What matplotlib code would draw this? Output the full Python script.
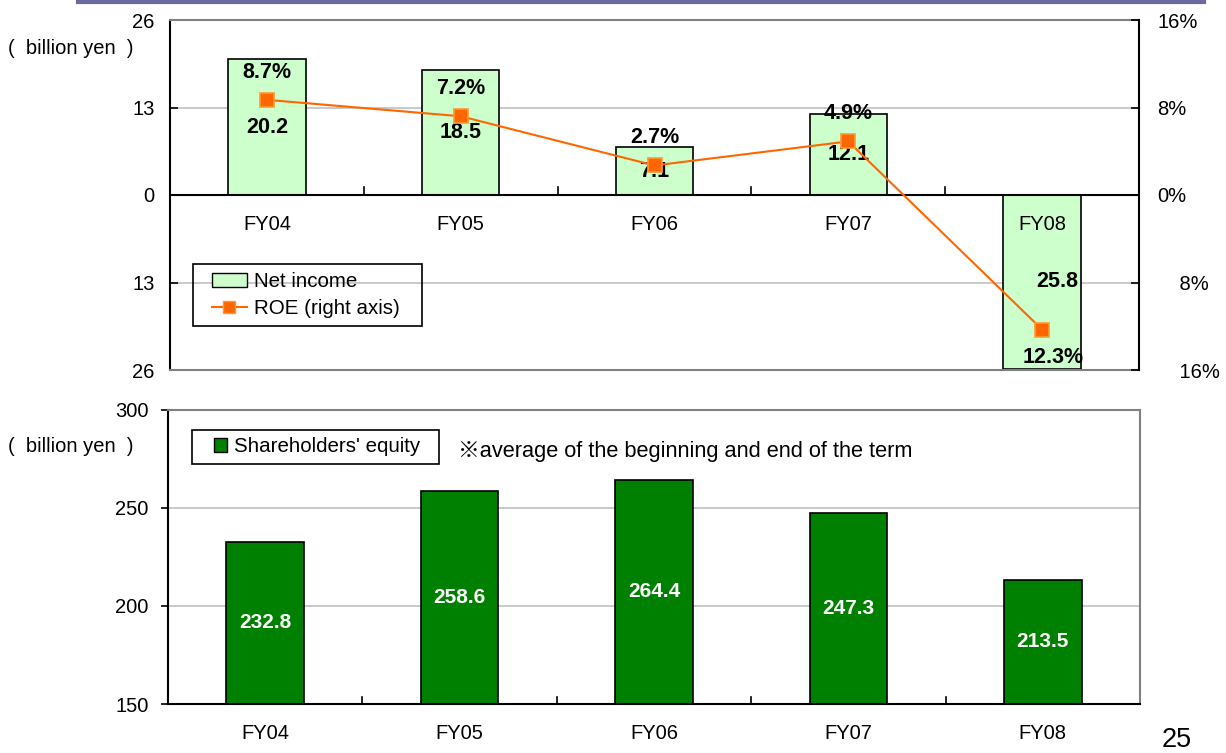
import matplotlib

matplotlib.use("Agg")
import matplotlib.pyplot as plt
import numpy as np
from matplotlib.ticker import FuncFormatter
from matplotlib.lines import Line2D
from matplotlib.patches import Patch, Rectangle

plt.rcParams["font.family"] = ["Liberation Sans", "DejaVu Sans"]

# data
years = ["FY04", "FY05", "FY06", "FY07", "FY08"]
net_income = [20.2, 18.5, 7.1, 12.1, -25.8]
roe = [8.7, 7.2, 2.7, 4.9, -12.3]
equity = [232.8, 258.6, 264.4, 247.3, 213.5]

LIGHT_GREEN = "#CCFFCC"
DARK_GREEN = "#008000"
ORANGE = "#FF6600"
GRID = "#C0C0C0"
FRAME = "#808080"

W, H = 1226, 753
fig = plt.figure(figsize=(W / 100, H / 100), dpi=100)
x = np.arange(len(years))


def px_box(x0, y0, x1, y1):
    """Rectangle given in slide pixels (top-left origin) -> figure fraction."""
    return Rectangle((x0 / W, 1 - y1 / H), (x1 - x0) / W, (y1 - y0) / H,
                     transform=fig.transFigure, fill=False, ec="black", lw=1.2, zorder=10)


# slide header rule
fig.add_artist(Line2D([78 / W, 1204 / W], [1 - 1.5 / H] * 2, color="#6A6AA0", lw=3))

# ---- top panel: net income bars + ROE line on a twin axis ----
ax = fig.add_axes([170 / W, 1 - 370 / H, 969 / W, 350 / H])
ax.bar(x, net_income, width=0.4, color=LIGHT_GREEN, edgecolor="black", lw=1.2, zorder=2)
ax.set_xlim(-0.5, 4.5)
ax.set_ylim(-26, 26)
ax.set_yticks([-26, -13, 0, 13, 26])
ax.yaxis.set_major_formatter(FuncFormatter(lambda v, _: f"{abs(v):g}"))
ax.tick_params(axis="y", labelsize=14.5, direction="in", length=6, width=1.2, pad=11)
for v in (-13, 13):
    ax.axhline(v, color=GRID, lw=1.2, zorder=0)
ax.axhline(0, color="black", lw=1.5, zorder=3)
ax.set_xticks([])
for b in x[:-1] + 0.5:
    ax.plot([b, b], [0, 1.2], color="black", lw=1.2, zorder=3)
for xi, name in zip(x, years):
    ax.text(xi, -4.4, name, ha="center", va="center", fontsize=14.5, zorder=4)
ax.spines["left"].set_linewidth(1.5)
ax.spines["right"].set_visible(False)
for s in ("top", "bottom"):
    ax.spines[s].set_color(FRAME)
    ax.spines[s].set_linewidth(1.5)
for xi, v in zip(x, net_income):
    dx = 0.08 if v < 0 else 0
    ax.text(xi + dx, v / 2, f"{abs(v):.1f}", ha="center", va="center",
            fontsize=15.5, fontweight="bold", zorder=6)
fig.text(8 / W, 1 - 48 / H, "(  billion yen  )", fontsize=14.5, va="center")

ax2 = ax.twinx()
ax2.set_ylim(-16, 16)
ax2.set_yticks([-16, -8, 0, 8, 16])
ax2.yaxis.set_major_formatter(
    FuncFormatter(lambda v, _: f"{abs(v):g}%" if v >= 0 else f"    {abs(v):g}%"))
ax2.tick_params(axis="y", labelsize=14.5, direction="in", length=6, width=1.2, pad=13)
ax2.spines["right"].set_linewidth(1.5)
for s in ("top", "bottom", "left"):
    ax2.spines[s].set_visible(False)
ax2.plot(x, roe, color=ORANGE, lw=1.5, marker="s", ms=10, mfc=ORANGE,
         mec="#FF9933", mew=1.2, zorder=5)
for xi, v in zip(x, roe):
    off = (0, 20) if v > 0 else (8, -20)
    ax2.annotate(f"{abs(v):.1f}%", xy=(xi, v), xytext=off, textcoords="offset points",
                 ha="center", va="center", fontsize=15.5, fontweight="bold", zorder=6)

ax2.legend(
    handles=[
        Patch(facecolor=LIGHT_GREEN, edgecolor="black", label="Net income"),
        Line2D([], [], color=ORANGE, lw=1.5, marker="s", ms=9, mfc=ORANGE,
               mec="#FF9933", label="ROE (right axis)"),
    ],
    loc="center left", bbox_to_anchor=(42 / 969, 1 - 275 / 350), fontsize=14.8,
    frameon=False, handlelength=1.7, handleheight=0.65, handletextpad=0.35,
    borderpad=0, labelspacing=0.35, borderaxespad=0,
)
fig.add_artist(px_box(193, 264, 422, 326))

# ---- bottom panel: shareholders' equity ----
bx = fig.add_axes([168 / W, 1 - 704 / H, 972 / W, 294 / H])
bx.bar(x, equity, width=0.4, color=DARK_GREEN, edgecolor="black", lw=1.2, zorder=2)
bx.set_xlim(-0.5, 4.5)
bx.set_ylim(150, 300)
bx.set_yticks([150, 200, 250, 300])
bx.tick_params(axis="y", labelsize=14.5, direction="out", length=5, width=1.2, pad=9)
for v in (200, 250):
    bx.axhline(v, color=GRID, lw=1.2, zorder=0)
bx.set_xticks([])
for b in x[:-1] + 0.5:
    bx.plot([b, b], [150, 153.5], color="black", lw=1.2, zorder=3)
for xi, name in zip(x, years):
    bx.text(xi, 135.2, name, ha="center", va="center", fontsize=14.5, clip_on=False)
for xi, v in zip(x, equity):
    bx.text(xi, (150 + v) / 2, f"{v:.1f}", ha="center", va="center", color="white",
            fontsize=15, fontweight="bold", zorder=4)
bx.spines["left"].set_linewidth(1.5)
bx.spines["bottom"].set_linewidth(1.5)
for s in ("top", "right"):
    bx.spines[s].set_color(FRAME)
    bx.spines[s].set_linewidth(1.5)
bx.legend(
    handles=[Patch(facecolor=DARK_GREEN, edgecolor="black", label="Shareholders' equity")],
    loc="center left", bbox_to_anchor=(46 / 972, 1 - 37 / 294), fontsize=14.8,
    frameon=False, handlelength=0.65, handleheight=0.65, handletextpad=0.3,
    borderpad=0, borderaxespad=0,
)
fig.add_artist(px_box(192, 430, 439, 464))
bx.text(290 / 972, 1 - 42 / 294, "\u203baverage of the beginning and end of the term",
        transform=bx.transAxes, fontsize=15.7, va="center",
        family=["Liberation Sans", "Noto Sans CJK JP", "DejaVu Sans"])
fig.text(8 / W, 1 - 447 / H, "(  billion yen  )", fontsize=14.5, va="center")

fig.text(1177 / W, 1 - 740 / H, "25", fontsize=19.5, ha="center", va="center")

fig.savefig("out.png", dpi=100)
